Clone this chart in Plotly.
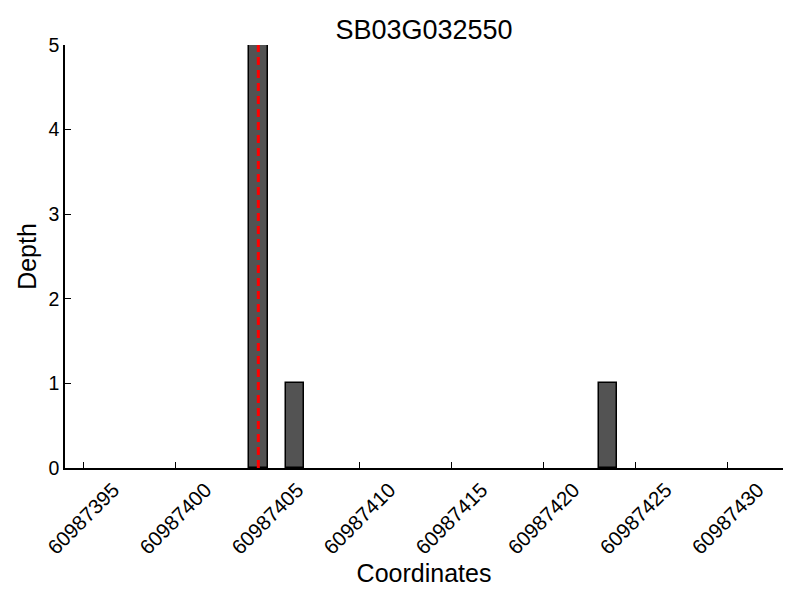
import plotly.graph_objects as go

# Data
positions = [60987404, 60987406, 60987423]   # left edge of each base bin
depths = [5, 1, 1]
marker_pos = 60987404.5
tick_vals = [60987395, 60987400, 60987405, 60987410, 60987415, 60987420, 60987425, 60987430]
y_ticks = [0, 1, 2, 3, 4, 5]
x_min, x_max = 60987394, 60987433
title_text = "SB03G032550"

FONT = "Liberation Sans, Arial, sans-serif"

fig = go.Figure()
fig.add_trace(go.Bar(
    x=positions, y=depths, width=1, offset=0,
    marker=dict(color="#535353", line=dict(color="black", width=1.5)),
    showlegend=False,
))
fig.add_trace(go.Scatter(
    x=[marker_pos, marker_pos], y=[0, max(depths)], mode="lines",
    line=dict(color="red", width=3, dash="8px,5px"),
    showlegend=False,
))

# page body has an 8px margin in the browser, so the figure is sized 792x592
fig.update_layout(
    width=792, height=592,
    margin=dict(l=57, r=17, t=37, b=132),
    plot_bgcolor="white", paper_bgcolor="white",
    font=dict(family=FONT, color="black"),
    title=dict(text=title_text, xref="paper", x=0.5, xanchor="center",
               yref="container", y=0.963, yanchor="middle",
               font=dict(size=27, family=FONT, color="black")),
    bargap=0,
)
fig.update_xaxes(
    range=[x_min, x_max], tickvals=tick_vals, ticktext=[str(v) for v in tick_vals],
    tickangle=-45, ticks="inside", ticklen=6, tickcolor="black", tickwidth=1,
    showline=True, linecolor="black", linewidth=1.5, showgrid=False, zeroline=False,
    tickfont=dict(size=20.5, family=FONT, color="black"),
    ticklabelshift=30, automargin=False,
    title=dict(text="Coordinates", font=dict(size=25, family=FONT, color="black"), standoff=0),
)
fig.update_yaxes(
    range=[0, 5], tickvals=y_ticks,
    ticks="inside", ticklen=6, tickcolor="black", tickwidth=1,
    showline=True, linecolor="black", linewidth=1.5, showgrid=False, zeroline=False,
    tickfont=dict(size=19.5, family=FONT, color="black"), automargin=False,
    title=dict(text="Depth", font=dict(size=25, family=FONT, color="black"), standoff=5),
)

fig.write_html("out.html")
